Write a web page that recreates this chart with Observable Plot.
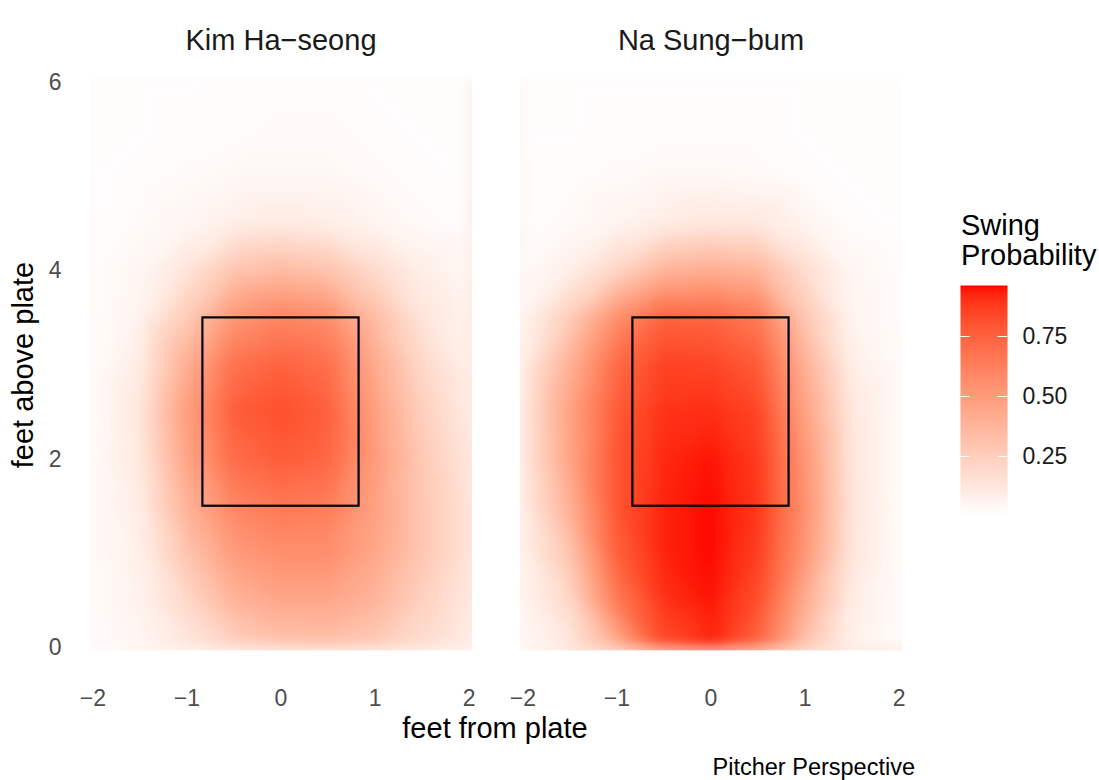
<!DOCTYPE html>
<html><head><meta charset="utf-8">
<script src="https://cdn.jsdelivr.net/npm/d3@7"></script>
<script src="https://cdn.jsdelivr.net/npm/@observablehq/plot@0.6"></script>
<style>
body{margin:0;background:#fff;font-family:"Liberation Sans",Arial,Helvetica,sans-serif;}
#wrap{position:relative;width:1099px;height:780px;overflow:hidden;}
.abs{position:absolute;white-space:nowrap;line-height:1;}
</style></head><body><div id="wrap"></div>
<script>
// ---- data ----
const players = ["Kim Ha−seong", "Na Sung−bum"];
const plateX = [-2, -1.5, -1, -0.5, 0, 0.5, 1, 1.5, 2];          // feet from plate
const plateZ = [0, 0.5, 1, 1.5, 2, 2.5, 3, 3.5, 4, 4.5, 5, 5.5, 6]; // feet above plate
// swing probability, one row per plateZ value, one column per plateX value
const kimSwing = [
  [0.02, 0.05, 0.12, 0.22, 0.28, 0.30, 0.26, 0.17, 0.09],
  [0.03, 0.07, 0.20, 0.38, 0.45, 0.45, 0.38, 0.24, 0.12],
  [0.03, 0.08, 0.30, 0.50, 0.56, 0.56, 0.45, 0.29, 0.15],
  [0.03, 0.10, 0.39, 0.60, 0.66, 0.64, 0.48, 0.29, 0.15],
  [0.03, 0.12, 0.46, 0.71, 0.77, 0.73, 0.50, 0.28, 0.13],
  [0.02, 0.13, 0.49, 0.77, 0.82, 0.76, 0.48, 0.25, 0.10],
  [0.02, 0.10, 0.41, 0.69, 0.75, 0.70, 0.43, 0.20, 0.08],
  [0.02, 0.07, 0.27, 0.53, 0.61, 0.57, 0.34, 0.14, 0.06],
  [0.02, 0.05, 0.14, 0.30, 0.35, 0.31, 0.19, 0.09, 0.04],
  [0.01, 0.03, 0.05, 0.09, 0.11, 0.09, 0.06, 0.03, 0.02],
  [0.01, 0.02, 0.03, 0.04, 0.04, 0.04, 0.03, 0.02, 0.01],
  [0.01, 0.01, 0.02, 0.02, 0.03, 0.03, 0.02, 0.01, 0.01],
  [0.01, 0.01, 0.01, 0.02, 0.02, 0.02, 0.01, 0.01, 0.01]
];
const naSwing = [
  [0.04, 0.12, 0.40, 0.82, 0.92, 0.72, 0.30, 0.07, 0.02],
  [0.06, 0.20, 0.65, 0.90, 0.95, 0.82, 0.42, 0.10, 0.02],
  [0.08, 0.30, 0.76, 0.93, 0.96, 0.87, 0.52, 0.13, 0.03],
  [0.10, 0.40, 0.80, 0.93, 0.96, 0.89, 0.55, 0.14, 0.03],
  [0.12, 0.46, 0.80, 0.92, 0.95, 0.88, 0.53, 0.13, 0.03],
  [0.12, 0.47, 0.78, 0.90, 0.91, 0.85, 0.47, 0.12, 0.03],
  [0.10, 0.40, 0.72, 0.86, 0.85, 0.78, 0.40, 0.09, 0.03],
  [0.06, 0.26, 0.56, 0.75, 0.74, 0.66, 0.29, 0.06, 0.02],
  [0.03, 0.09, 0.22, 0.38, 0.42, 0.38, 0.18, 0.05, 0.02],
  [0.02, 0.03, 0.06, 0.10, 0.13, 0.12, 0.06, 0.02, 0.01],
  [0.02, 0.02, 0.03, 0.04, 0.04, 0.03, 0.02, 0.01, 0.01],
  [0.01, 0.01, 0.02, 0.02, 0.02, 0.02, 0.01, 0.01, 0.01],
  [0.01, 0.01, 0.01, 0.01, 0.01, 0.01, 0.01, 0.01, 0.01]
];
const zoneX = [-0.83, 0.83];
const zoneZ = [1.5, 3.5];
const xTicks = [-2, -1, 0, 1, 2];
const yTicks = [0, 2, 4, 6];
const legendTicks = [0.25, 0.5, 0.75];
const probDomain = [0.004, 0.9625];

// ---- build tables ----
const grid = [];
[kimSwing, naSwing].forEach((m, p) =>
  m.forEach((row, i) => row.forEach((v, j) =>
    grid.push({player: players[p], x: plateX[j], z: plateZ[i], swing: v}))));
const zone = [{x1: zoneX[0], x2: zoneX[1], y1: zoneZ[0], y2: zoneZ[1]}];

const font = "Liberation Sans, Arial, Helvetica, sans-serif";
const color = {type: "linear", domain: probDomain, range: ["#ffffff", "#ff0000"],
               interpolate: d3.interpolateLab, clamp: true};

const W = 940, H = 780;
const chart = Plot.plot({
  width: W, height: H,
  marginLeft: 65.7, marginRight: W - 924.3, marginTop: 53.7, marginBottom: H - 675.25,
  style: {fontFamily: font, background: "transparent", overflow: "visible"},
  fx: {domain: players, paddingInner: 0.0033, paddingOuter: 0, axis: null},
  x: {domain: [-2.28, 2.28]},
  y: {domain: [-0.3, 6.3]},
  color,
  marks: [
    Plot.raster(grid, {x: "x", y: "z", fill: "swing", fx: "player",
      interpolate: "barycentric", blur: 5,
      x1: -2.03, x2: 2.03, y1: -0.03, y2: 6.08}),
    Plot.rect(zone, {x1: "x1", x2: "x2", y1: "y1", y2: "y2", stroke: "black", strokeWidth: 2.2, fill: "none"}),
    Plot.axisX(xTicks, {tickSize: 0, tickPadding: 13.5, fontSize: 23, color: "#4d4d4d", label: null, tickFormat: d3.format("d")}),
    Plot.axisY(yTicks, {tickSize: 0, tickPadding: 5, fontSize: 23, color: "#4d4d4d", label: null, tickFormat: d3.format("d")}),
    Plot.text(players, {fx: d => d, text: d => d, frameAnchor: "top", dy: -25, fontSize: 29, fill: "#1a1a1a"})
  ]
});

const legend = Plot.plot({
  width: 139, height: 240,
  marginLeft: 0, marginRight: 92, marginTop: 5, marginBottom: 5,
  style: {fontFamily: font, background: "transparent", overflow: "visible"},
  x: {domain: [0, 1], axis: null},
  y: {domain: probDomain, axis: null},
  color,
  marks: [
    Plot.raster({fill: (x, y) => y, x1: 0, x2: 1, y1: probDomain[0], y2: probDomain[1]}),
    Plot.ruleY(legendTicks, {x1: 0, x2: 0.2, stroke: "white", strokeWidth: 1}),
    Plot.ruleY(legendTicks, {x1: 0.8, x2: 1, stroke: "white", strokeWidth: 1}),
    Plot.axisY(legendTicks, {anchor: "right", tickSize: 0, tickPadding: 15, fontSize: 23,
      color: "#1a1a1a", label: null, tickFormat: d3.format(".2f")})
  ]
});

const wrap = document.getElementById("wrap");
chart.style.position = "absolute"; chart.style.left = "0px"; chart.style.top = "0px";
wrap.appendChild(chart);
legend.style.position = "absolute"; legend.style.left = "960px"; legend.style.top = "280px";
wrap.appendChild(legend);

function addText(txt, css) {
  const d = document.createElement("div");
  d.className = "abs";
  d.textContent = txt;
  Object.assign(d.style, css);
  wrap.appendChild(d);
  return d;
}
addText("feet from plate", {left: "495px", top: "713.5px", fontSize: "29px", color: "#000", transform: "translateX(-50%)"});
addText("feet above plate", {left: "23px", top: "365px", fontSize: "29px", color: "#000", transform: "translate(-50%,-50%) rotate(-90deg)"});
const lt = addText("", {left: "961px", top: "210px", fontSize: "29px", color: "#000", lineHeight: "30px"});
lt.innerHTML = "Swing<br>Probability";
addText("Pitcher Perspective", {right: (1099 - 915) + "px", top: "756px", fontSize: "23.5px", color: "#000"});
</script></body></html>
